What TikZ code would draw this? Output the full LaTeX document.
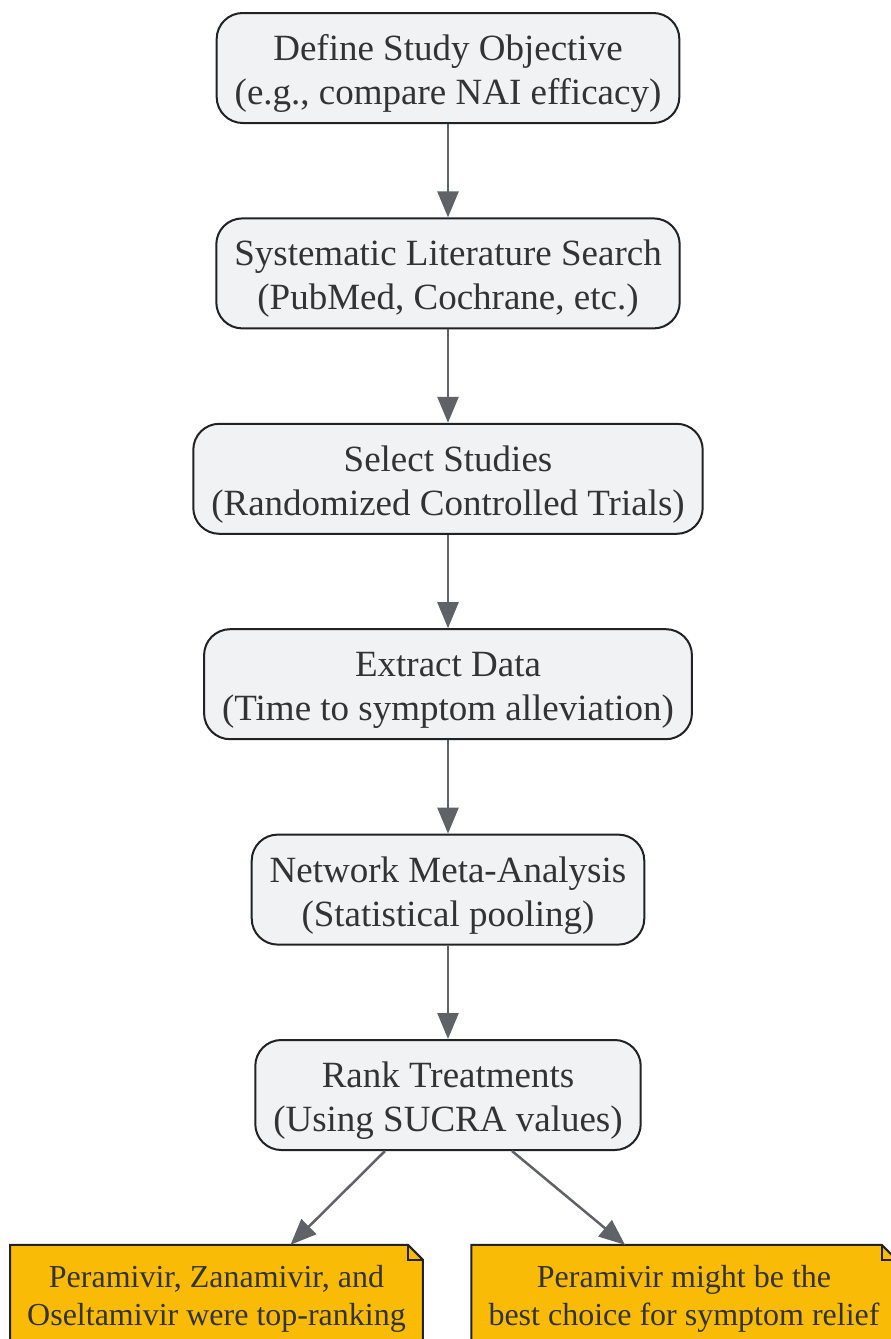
\documentclass[tikz,border=0pt]{standalone}
\usepackage{fontspec}
\setmainfont{Liberation Serif}
\usetikzlibrary{positioning}
\usetikzlibrary{arrows.meta}
\usetikzlibrary{backgrounds}
\definecolor{boxfill}{HTML}{F1F2F4}
\definecolor{boxline}{HTML}{222222}
\definecolor{boxtext}{HTML}{333333}
\definecolor{flowgray}{HTML}{5F6267}
\definecolor{noteamber}{HTML}{F9BB06}

\begin{document}
\begin{tikzpicture}[x=1pt,y=1pt,node distance=205.4pt,on grid,
  stage/.style={draw=boxline,line width=2pt,fill=boxfill,rounded corners=26pt,
    align=center,inner xsep=18pt,minimum height=110pt,text height=81pt,text=boxtext,
    font=\fontsize{37}{44}\selectfont},
  finding/.style={align=center,inner xsep=17pt,minimum height=102pt,text height=66pt,
    text=boxtext,font=\fontsize{32}{38}\selectfont},
  flow/.style={draw=flowgray,line width=2.5pt,-{Triangle[length=26pt,width=21pt]}}]
        \useasboundingbox (0,0) rectangle (891,-1339);
        \node[stage] (objective) at (448,-68) {Define Study Objective\\(e.g., compare NAI efficacy)};
        \node[stage] (search) [below=of objective] {Systematic Literature Search\\(PubMed, Cochrane, etc.)};
        \node[stage] (select) [below=of search] {Select Studies\\(Randomized Controlled Trials)};
        \node[stage] (extract) [below=of select] {Extract Data\\(Time to symptom alleviation)};
        \node[stage] (nma) [below=of extract] {Network Meta-Analysis\\(Statistical pooling)};
        \node[stage] (rank) [below=of nma] {Rank Treatments\\(Using SUCRA values)};
        \node[finding] (topthree) [below left=201pt and 231.5pt of rank] {Peramivir, Zanamivir, and\\Oseltamivir were top-ranking};
        \node[finding] (relief) [below right=201pt and 236pt of rank] {Peramivir might be the\\best choice for symptom relief};

        % folded notes behind their text
        \begin{scope}[on background layer]
          \foreach \n in {topthree,relief} {
            \filldraw[draw=boxline,line width=2pt,fill=noteamber,line join=miter]
              (\n.north west) -- ([xshift=-15pt]\n.north east) -- ([yshift=-15pt]\n.north east)
              -- (\n.south east) -- (\n.south west) -- cycle;
            \draw[boxline,line width=2pt]
              ([xshift=-15pt]\n.north east) -- ([xshift=-15pt,yshift=-15pt]\n.north east) -- ([yshift=-15pt]\n.north east);
          }
        \end{scope}

        \path
        (objective) edge[flow] (search)
        (search)    edge[flow] (select)
        (select)    edge[flow] (extract)
        (extract)   edge[flow] (nma)
        (nma)       edge[flow] (rank)
        ([xshift=-63pt]rank.south) edge[flow] ([xshift=74pt]topthree.north)
        ([xshift=64pt]rank.south)  edge[flow] ([xshift=-59pt]relief.north);
      \end{tikzpicture}
\end{document}
